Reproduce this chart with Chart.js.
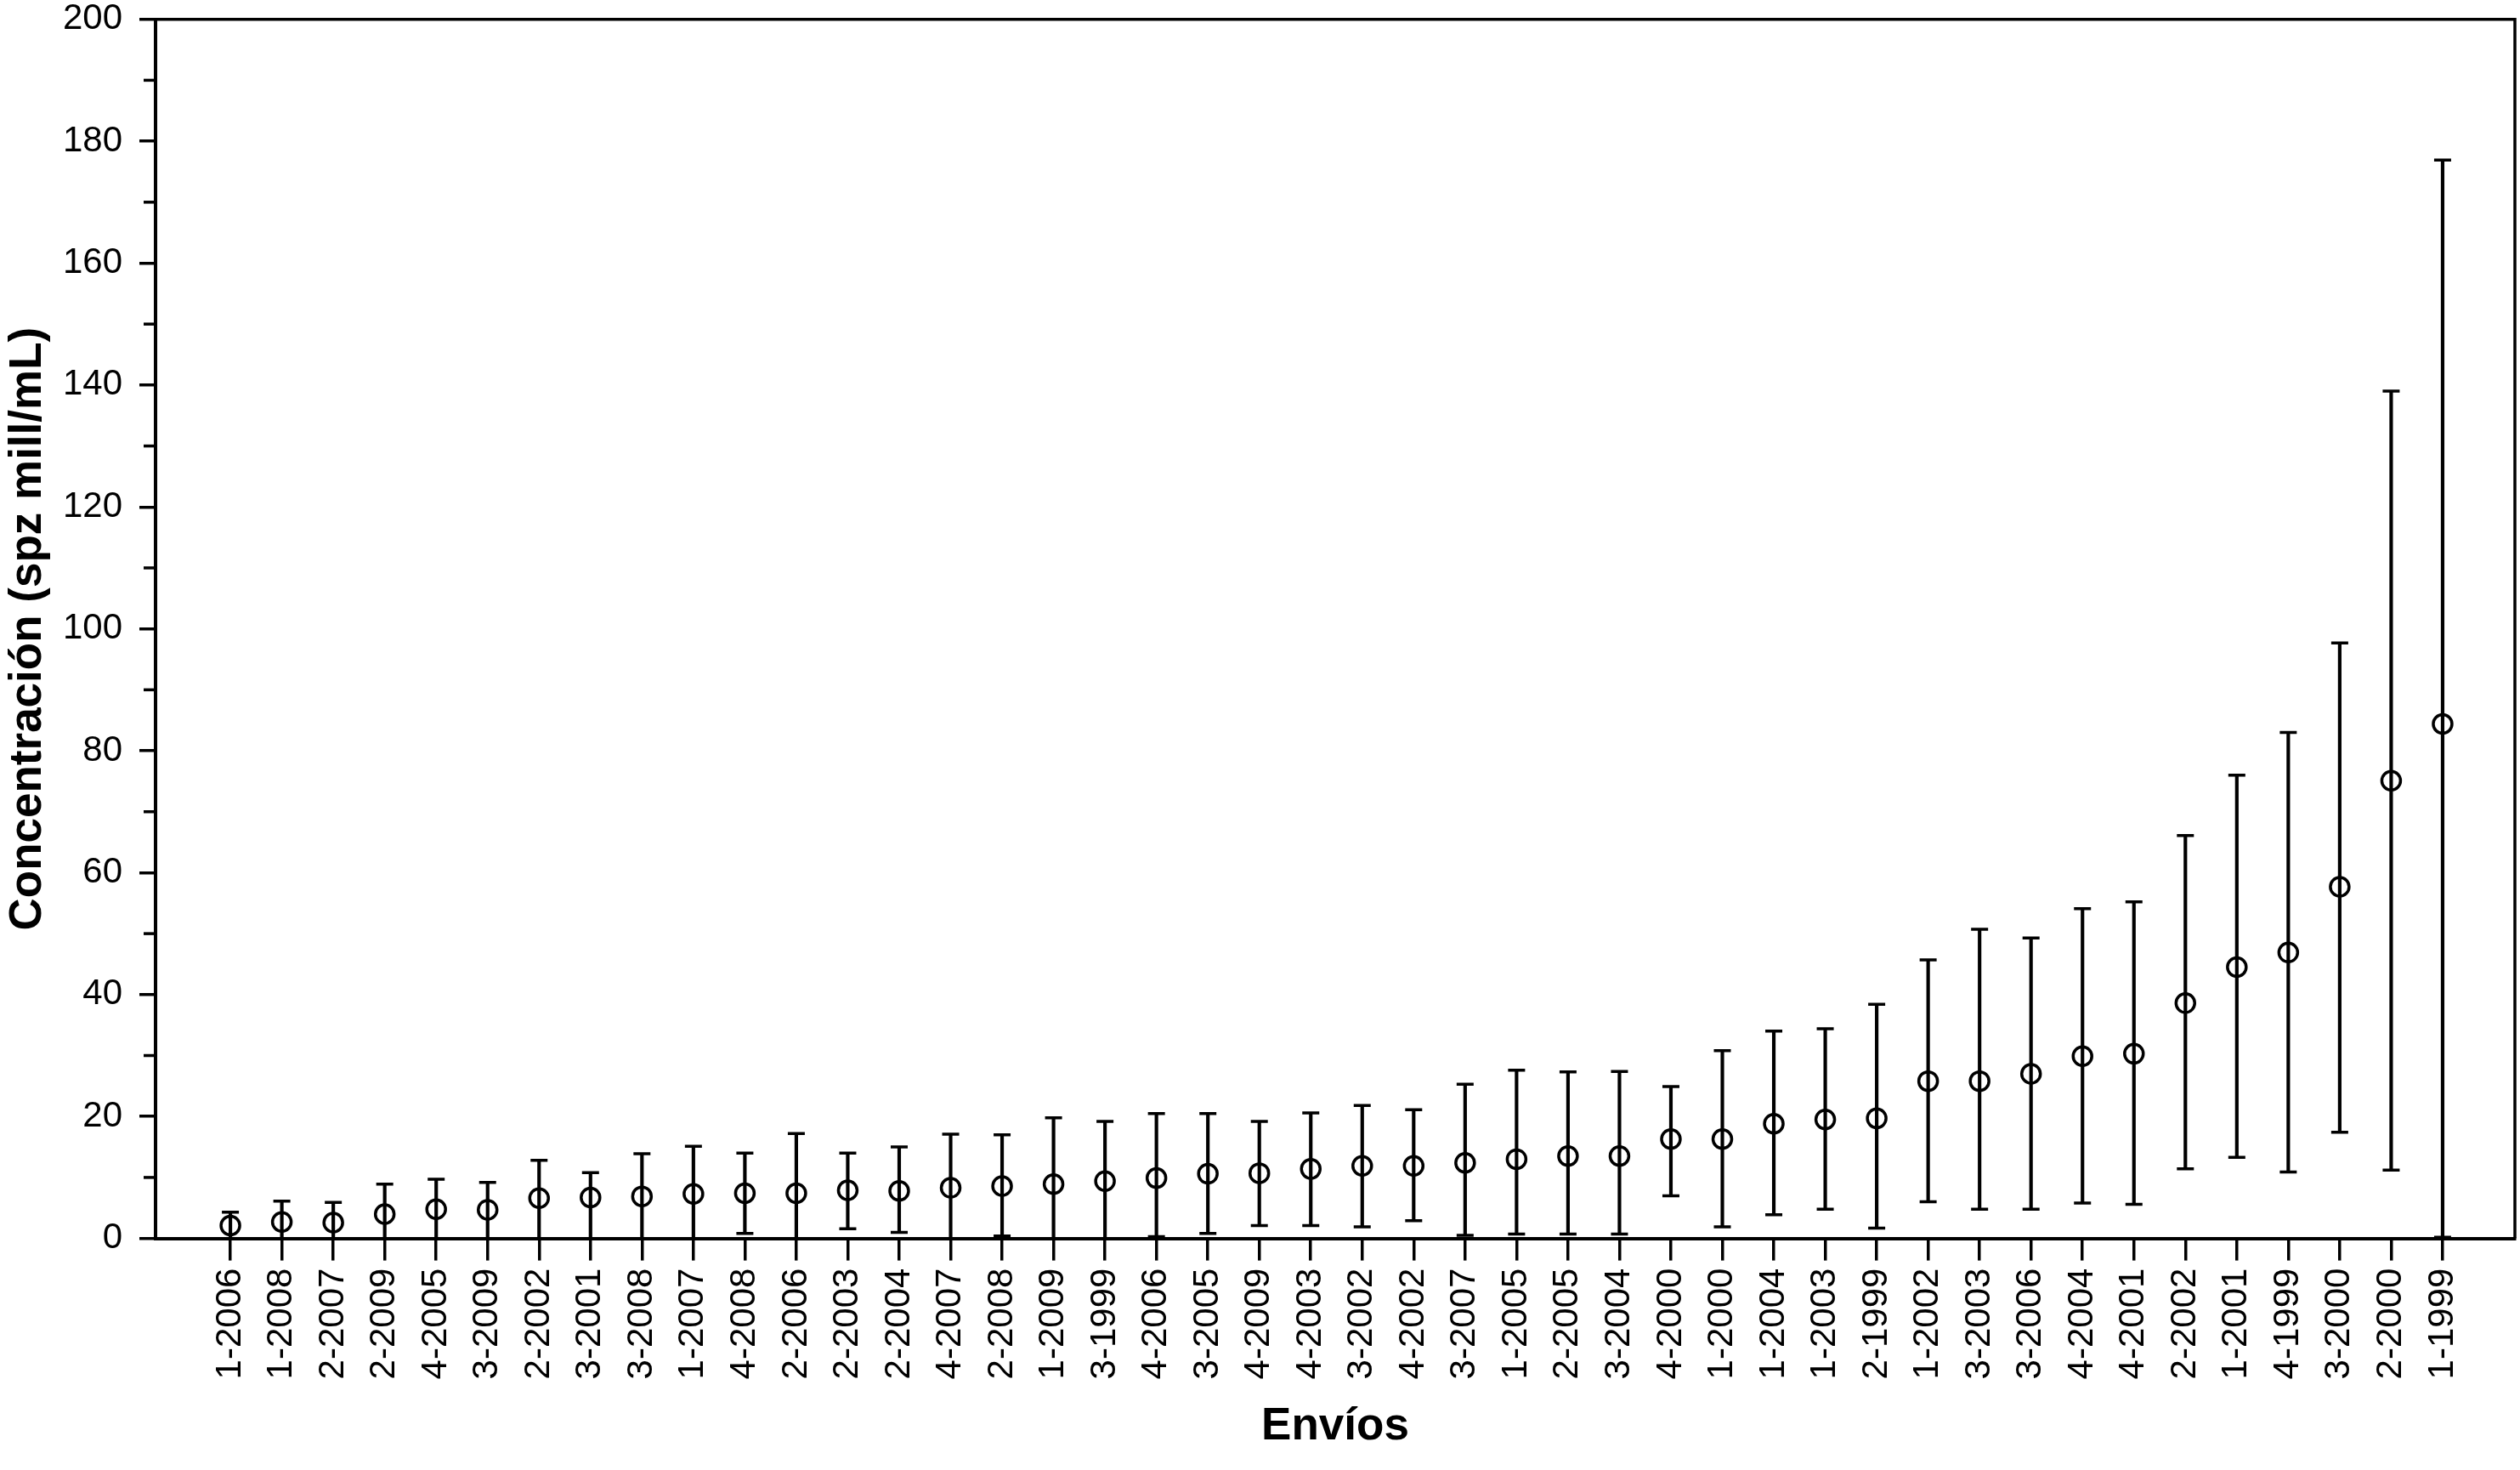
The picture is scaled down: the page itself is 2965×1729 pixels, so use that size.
<!DOCTYPE html>
<html>
<head>
<meta charset="utf-8">
<script src="https://cdn.jsdelivr.net/npm/chart.js@4/dist/chart.umd.min.js"></script>
<style>
  html, body { margin: 0; padding: 0; background: #ffffff; }
  canvas { display: block; }
</style>
</head>
<body>
<canvas id="c" width="2965" height="1729"></canvas>
<script>
// ---- Data ----
const categories = [
  '1-2006','1-2008','2-2007','2-2009','4-2005','3-2009','2-2002','3-2001','3-2008','1-2007',
  '4-2008','2-2006','2-2003','2-2004','4-2007','2-2008','1-2009','3-1999','4-2006','3-2005',
  '4-2009','4-2003','3-2002','4-2002','3-2007','1-2005','2-2005','3-2004','4-2000','1-2000',
  '1-2004','1-2003','2-1999','1-2002','3-2003','3-2006','4-2004','4-2001','2-2002','1-2001',
  '4-1999','3-2000','2-2000','1-1999'
];
const means = [
  2.1, 2.7, 2.6, 4.0, 4.8, 4.7, 6.6, 6.7, 6.9, 7.3,
  7.4, 7.4, 7.9, 7.8, 8.3, 8.6, 8.9, 9.4, 9.9, 10.6,
  10.7, 11.4, 11.9, 11.9, 12.4, 13.0, 13.5, 13.5, 16.3, 16.3,
  18.8, 19.5, 19.7, 25.8, 25.8, 27.0, 29.9, 30.3, 38.6, 44.5,
  46.9, 57.7, 75.1, 84.4
];
const lowerBounds = [
  0, 0, 0, 0, 0, 0, 0, 0, 0, 0,
  0.8, 0, 1.6, 1.0, 0, 0.4, 0, 0, 0.3, 0.8,
  2.1, 2.1, 1.9, 2.9, 0.5, 0.7, 0.7, 0.7, 7.0, 1.9,
  3.9, 4.8, 1.7, 6.0, 4.8, 4.8, 5.8, 5.6, 11.4, 13.3,
  10.9, 17.4, 11.2, 0.2
];
const upperBounds = [
  4.3, 6.1, 5.9, 8.9, 9.7, 9.2, 12.8, 10.8, 13.9, 15.1,
  14.0, 17.2, 14.0, 15.0, 17.1, 17.0, 19.8, 19.2, 20.5, 20.5,
  19.2, 20.6, 21.8, 21.1, 25.3, 27.6, 27.3, 27.4, 24.9, 30.8,
  34.0, 34.4, 38.4, 45.7, 50.7, 49.3, 54.1, 55.2, 66.1, 76.0,
  83.0, 97.7, 139.0, 176.9
];
const yMajorTicks = [0, 20, 40, 60, 80, 100, 120, 140, 160, 180, 200];
const yMinorTicks = [10, 30, 50, 70, 90, 110, 130, 150, 170, 190];
const yTitle = 'Concentración (spz mill/mL)';
const xTitle = 'Envíos';

// ---- Build datasets ----
const meanPoints = categories.map((c, i) => ({ x: i, y: means[i] }));
const rangeBars = categories.map((c, i) => ({ x: i, y: [lowerBounds[i], upperBounds[i]] }));
const capPoints = [];
categories.forEach((c, i) => {
  capPoints.push({ x: i, y: upperBounds[i] });
  if (lowerBounds[i] > 0) capPoints.push({ x: i, y: lowerBounds[i] });
});

const FONT = "'Liberation Sans', Arial, Helvetica, sans-serif";
Chart.defaults.font.family = FONT;
Chart.defaults.color = '#000';

const framePlugin = {
  id: 'frame',
  afterDraw(chart) {
    const { ctx, chartArea: { top, right, bottom, left }, scales: { y } } = chart;
    ctx.save();
    ctx.strokeStyle = '#000';
    ctx.lineWidth = 3.5;
    ctx.beginPath();
    ctx.moveTo(left, top);
    ctx.lineTo(right, top);
    ctx.lineTo(right, bottom);
    ctx.stroke();
    yMinorTicks.forEach(v => {
      const py = y.getPixelForValue(v);
      ctx.beginPath();
      ctx.moveTo(left - 14, py);
      ctx.lineTo(left, py);
      ctx.stroke();
    });
    ctx.restore();
  }
};

function zeroPadding(scale) {
  scale.paddingTop = 0; scale.paddingBottom = 0;
  scale.paddingLeft = 0; scale.paddingRight = 0;
}

new Chart(document.getElementById('c'), {
  type: 'scatter',
  data: {
    datasets: [
      { type: 'scatter', label: 'Media', data: meanPoints, order: 1,
        pointStyle: 'circle', pointRadius: 11, pointHoverRadius: 11,
        pointBorderWidth: 3.5, pointBorderColor: '#000',
        pointBackgroundColor: 'rgba(0,0,0,0)', showLine: false, clip: false },
      { type: 'scatter', label: 'Límites', data: capPoints, order: 2,
        pointStyle: 'line', pointRadius: 10, pointHoverRadius: 10,
        pointBorderWidth: 3.5, pointBorderColor: '#000', showLine: false },
      { type: 'bar', label: 'Rango', data: rangeBars, order: 3,
        barThickness: 3.5, backgroundColor: '#000', borderWidth: 0 }
    ]
  },
  options: {
    responsive: false,
    devicePixelRatio: 1,
    animation: false,
    layout: { autoPadding: false, padding: { top: 22.7, right: 6, left: 0, bottom: 0 } },
    plugins: { legend: { display: false }, tooltip: { enabled: false } },
    scales: {
      x: {
        type: 'linear', min: -1.455, max: categories.length - 1 + 1.405, offset: false,
        afterBuildTicks(scale) { scale.ticks = categories.map((c, i) => ({ value: i })); },
        afterFit(scale) { scale.height = 1729 - 1456.6; zeroPadding(scale); },
        ticks: { autoSkip: false, minRotation: 90, maxRotation: 90, padding: 9,
          font: { size: 42 }, color: '#000',
          callback: (v) => categories[v] !== undefined ? categories[v] : '' },
        grid: { drawOnChartArea: false, drawTicks: true, tickLength: 26,
          color: '#000', lineWidth: 3.5, offset: false },
        border: { display: true, color: '#000', width: 4 },
        title: { display: true, text: xTitle, color: '#000',
          font: { size: 53, weight: 'bold' }, padding: { top: 0, bottom: 19 } }
      },
      y: {
        type: 'linear', min: 0, max: 200,
        afterBuildTicks(scale) { scale.ticks = yMajorTicks.map(v => ({ value: v })); },
        afterFit(scale) { scale.width = 183; zeroPadding(scale); },
        ticks: { padding: 20, font: { size: 42 }, color: '#000' },
        grid: { drawOnChartArea: false, drawTicks: true, tickLength: 19,
          color: '#000', lineWidth: 3.5 },
        border: { display: true, color: '#000', width: 4 },
        title: { display: true, text: yTitle, color: '#000',
          font: { size: 53, weight: 'bold' }, padding: { top: 2, bottom: 0 } }
      }
    }
  },
  plugins: [framePlugin]
});
</script>
</body>
</html>
